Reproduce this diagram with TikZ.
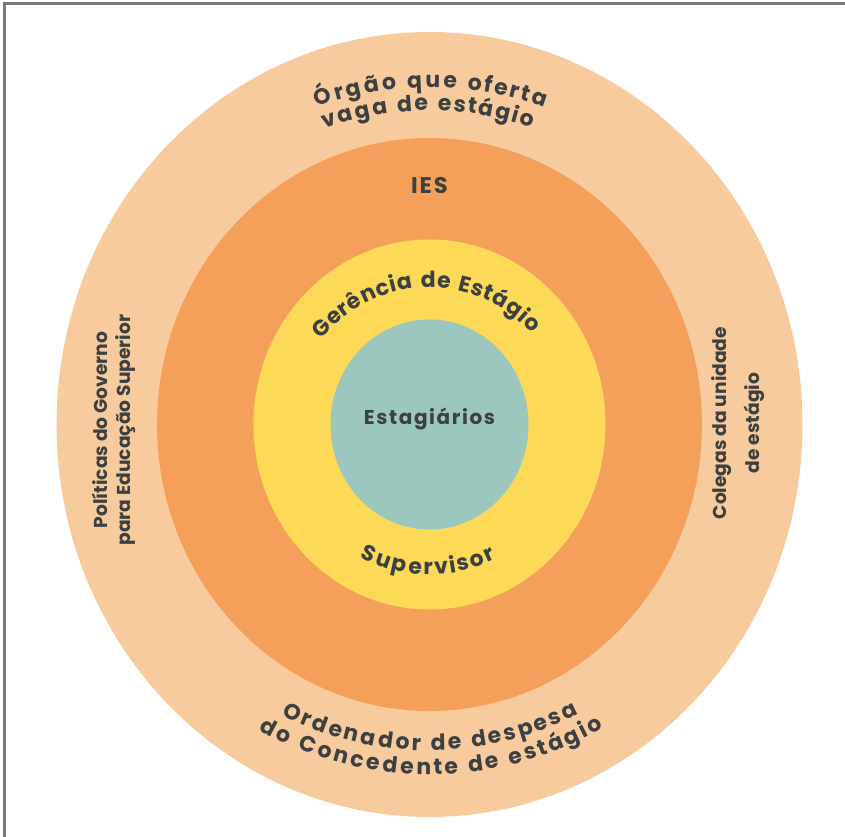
\documentclass[tikz,border=0pt]{standalone}
\usepackage{fontspec}
\setmainfont{Poppins}
\newfontfamily\ringface{Poppins}[LetterSpace=8]
\usetikzlibrary{decorations.text}
\definecolor{peach}{RGB}{248,203,158}
\definecolor{tangerine}{RGB}{244,160,90}
\definecolor{sun}{RGB}{253,217,88}
\definecolor{sea}{RGB}{155,199,190}
\definecolor{ink}{RGB}{60,64,64}
\definecolor{framegray}{RGB}{120,120,120}
\newcommand{\ringfont}[1]{\ringface\bfseries\fontsize{#1}{18}\selectfont}
\tikzstyle{lbl}=[text=ink,inner sep=0pt,align=center]
\tikzset{arctext/.style={decorate,decoration={text effects along path,text={#1},
  text effects/.cd,text along path,fit text to path,characters={text=ink,font=\ringfont{16.5}}}}}
\begin{document}
\begin{tikzpicture}[x=0.75pt,y=0.75pt]
\useasboundingbox (-429.5,-412.5) rectangle (415.5,424.5);
\draw[framegray,line width=2.25pt] (-425,-412.5) -- (-425,421) -- (415.5,421);
\fill[peach] (0,0) ellipse[x radius=373,y radius=392.5];
\fill[tangerine] (0,0) ellipse[x radius=272.5,y radius=286.5];
\fill[sun] (0,0) ellipse[x radius=176,y radius=185];
\fill[sea] (0,0) ellipse[x radius=99,y radius=105];
\node[lbl,font=\ringfont{15}] (estag) at (0,6) {Estagiários};
\node[lbl,font=\ringfont{17}] (ies) at (0,239) {IES};
\node[lbl,rotate=90,font=\bfseries\fontsize{14}{17}\selectfont] (politicas) at (-315.5,-5.5) {Políticas do Governo\\para Educação Superior};
\node[lbl,rotate=90,font=\bfseries\fontsize{14}{17}\selectfont] (colegas) at (308.5,1.5) {Colegas da unidade\\[8pt]de estágio};
\path[arctext={Órgão que oferta}] (109.5:337) arc[start angle=109.5,end angle=70,radius=337];
\path[arctext={vaga de estágio}] (109.5:314) arc[start angle=109.5,end angle=71,radius=314];
\path[arctext={Gerência de Estágio}] (142:137) arc[start angle=142,end angle=41.5,radius=137];
\path[arctext={Supervisor}] (242.3:150) arc[start angle=242.3,end angle=296.4,radius=150];
\path[arctext={Ordenador de despesa}] (243:326) arc[start angle=243,end angle=297.3,radius=326];
\path[arctext={do Concedente de estágio}] (240.8:350) arc[start angle=240.8,end angle=299.8,radius=350];
\end{tikzpicture}
\end{document}
